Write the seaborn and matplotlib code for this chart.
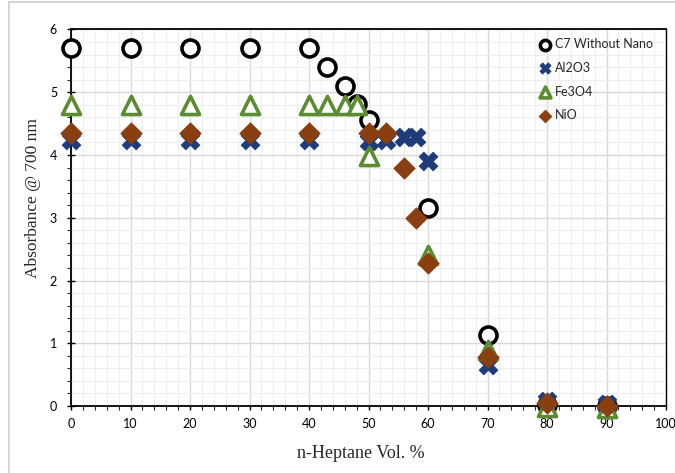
import matplotlib
matplotlib.use("Agg")
import matplotlib.pyplot as plt
import seaborn as sns
from matplotlib.patches import Rectangle
from matplotlib.ticker import MultipleLocator

# Data
c7_x = [0, 10, 20, 30, 40, 43, 46, 48, 50, 60, 70, 80, 90]
c7_y = [5.7, 5.7, 5.7, 5.7, 5.7, 5.4, 5.1, 4.82, 4.55, 3.15, 1.13, 0.02, 0.0]

al_x = [0, 10, 20, 30, 40, 50, 53, 56, 58, 60, 70, 80, 90]
al_y = [4.24, 4.24, 4.24, 4.24, 4.24, 4.22, 4.24, 4.28, 4.28, 3.9, 0.65, 0.08, 0.03]

fe_x = [0, 10, 20, 30, 40, 43, 46, 48, 50, 60, 70, 80, 90]
fe_y = [4.8, 4.8, 4.8, 4.8, 4.8, 4.8, 4.8, 4.8, 3.98, 2.4, 0.9, -0.02, -0.03]

ni_x = [0, 10, 20, 30, 40, 50, 53, 56, 58, 60, 70, 80, 90]
ni_y = [4.35, 4.35, 4.35, 4.35, 4.35, 4.35, 4.35, 3.8, 3.0, 2.28, 0.78, 0.04, 0.0]

labels = ["C7 Without Nano", "Al2O3", "Fe3O4", "NiO"]

sns.set_theme(style="white")
plt.rcParams['font.family'] = ['Lato', 'DejaVu Sans']

W, H = 675, 473
fig = plt.figure(figsize=(W/100, H/100), dpi=100)
ax = fig.add_axes([71/W, 1-406/H, (666-71)/W, (406-29.5)/H])

# light border around the figure (left and top edges visible)
fig.patches.append(Rectangle((9/W, -0.1), 1.2, 1.1 - 2/H, transform=fig.transFigure,
                             fill=False, edgecolor="#d6d6d6", linewidth=1.5, zorder=0))

navy = "#1f3b7a"
green = "#5b8c32"
brown = "#8a3f10"

sns.scatterplot(x=c7_x, y=c7_y, ax=ax, marker="o", s=150, facecolor="white",
                edgecolor="black", linewidth=2.6, label=labels[0], zorder=3, clip_on=False)
sns.scatterplot(x=al_x, y=al_y, ax=ax, marker="X", s=185, color=navy,
                edgecolor=navy, linewidth=0.5, label=labels[1], zorder=3, clip_on=False)
sns.scatterplot(x=fe_x, y=fe_y, ax=ax, marker="^", s=170, facecolor="white",
                edgecolor=green, linewidth=2.6, label=labels[2], zorder=3, clip_on=False)
sns.scatterplot(x=ni_x, y=ni_y, ax=ax, marker="D", s=120, color=brown,
                edgecolor=brown, linewidth=0.5, label=labels[3], zorder=4, clip_on=False)

ax.set_xlim(0, 100)
ax.set_ylim(0, 6)
ax.xaxis.set_major_locator(MultipleLocator(10))
ax.xaxis.set_minor_locator(MultipleLocator(2))
ax.yaxis.set_major_locator(MultipleLocator(1))
ax.yaxis.set_minor_locator(MultipleLocator(0.2))

ax.grid(which="major", color="#d9d9d9", linewidth=1.0)
ax.grid(which="minor", color="#eeeeee", linewidth=0.8)
ax.set_axisbelow(True)

for side in ["left", "bottom", "top", "right"]:
    ax.spines[side].set_color("black")
    ax.spines[side].set_linewidth(1.3)
ax.spines["right"].set_linewidth(1.0)

ax.tick_params(axis="both", which="major", direction="inout", length=6, width=1,
               labelsize=9, colors="black", bottom=True, left=True)
ax.tick_params(axis="y", which="major", pad=7)
ax.tick_params(axis="both", which="minor", direction="out", length=3, width=0.8,
               bottom=True, left=True)
ax.tick_params(axis="x", which="major", direction="out", length=3, pad=6)

ax.set_xlabel("n-Heptane Vol. %", fontfamily="Liberation Serif", fontsize=13)
ax.set_ylabel("Absorbance @ 700 nm", fontfamily="Liberation Serif", fontsize=12.5)
ax.xaxis.set_label_coords(0.487, -0.103)
ax.yaxis.set_label_coords(-0.05, 0.552)

for t in ax.get_xticklabels() + ax.get_yticklabels():
    t.set_clip_on(False)

leg = ax.legend(loc="upper right", bbox_to_anchor=(0.978, 0.978), frameon=False,
                fontsize=9, markerscale=0.6, handletextpad=0.0, labelspacing=0.95,
                borderaxespad=0.0, borderpad=0.0, handlelength=1.6)

fig.savefig("out.png", dpi=100)
